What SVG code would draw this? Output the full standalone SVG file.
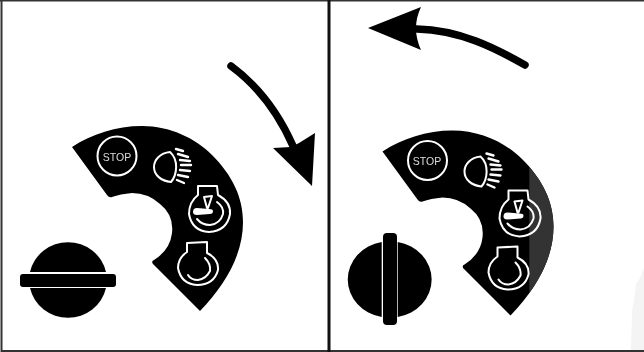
<svg xmlns="http://www.w3.org/2000/svg" width="644" height="352" viewBox="0 0 644 352">
<style>
.w{fill:none;stroke:#fff;stroke-width:2;stroke-linejoin:round;stroke-linecap:round}
.r{fill:none;stroke:#fff;stroke-width:2.400;stroke-linecap:round}
.f{fill:#fff}
.k{fill:#000}
.t{font-family:"Liberation Sans",sans-serif;font-size:10.500px;fill:#ddd;text-anchor:middle;filter:url(#gray)}
.a{fill:none;stroke:#000;stroke-width:7.500;stroke-linecap:round}
.fr{fill:none;stroke:#333;stroke-width:2}
</style>
<defs>
<filter id="gray" x="-10%" y="-20%" width="120%" height="140%"><feOffset dx="0" dy="0"/></filter>
<path id="fan" d="M72 147C92 134 116 126 142 126C170 126 195 138 212 155C232 175 243 197 243 222C243 255 225 285 200 311L153 264Q151 261 154 260Q170 250 172 233Q174 215 160 204Q148 193 132 193Q120 194 112 197Q109 198 107 195Z"/>
<g id="icons">
<circle class="w" cx="117" cy="156" r="19.500"/>
<path class="w" d="M170 152C160 153 154 160 154 167C154 175 161 181 171 182C177 175 179 160 170 152Z"/>
<path class="r" d="M176 149L183 151M178 154L188 157M180 160L190 161M181 165L191 165M180 170L190 171M178 175L188 177M177 180L184 183"/>
<path class="w" d="M198 186L217 186L218 195Q231 202 230 214Q227 231 209 232Q192 231 189 214Q189 202 198 195Z"/>
<path class="w" d="M207 208L204 197L212 196L208 208"/>
<path class="f" d="M193 212Q193 208 197 208L209 209Q213 209 213 211Q213 214 210 214L197 215Q193 215 193 212Z"/>
<path class="w" d="M217 202Q224 207 223 214Q220 224 210 225Q202 225 197 219"/>
<path class="w" d="M187 243L207 242L207 253Q219 259 218 270Q214 285 197 285Q181 284 178 268Q178 258 187 252Z"/>
<path class="w" d="M205 258Q211 264 210 271Q206 279 198 280Q191 280 188 275"/>
</g>
</defs>
<rect width="644" height="352" fill="#fff"/>
<path d="M644 268L640 278L636 284L634 300L632 312L631 350H644Z" fill="#f4f4f4"/>
<g id="frame">
<path class="fr" d="M0 .5H644M1.500 0V351H644"/>
<path d="M329 0V352" fill="none" stroke="#111" stroke-width="3"/>
</g>
<g id="connectors">
<g id="arrow-left">
<path class="a" d="M231 66C250 80 275 105 293 146"/>
<path class="k" d="M273 148L291 147L299 143L315 133L312 186Z"/>
</g>
<g id="arrow-right">
<path class="a" d="M525 65C495 48 460 30 417 29"/>
<path class="k" d="M368 28L421 7Q411 28 421 50Z"/>
</g>
</g>
<g id="panel-left">
<use href="#fan"/>
<use href="#icons"/>
<text class="t" x="117" y="160.500">STOP</text>
</g>
<g id="panel-right">
<g transform="translate(310.500 4.500)">
<use href="#fan"/>
</g>
<clipPath id="band"><rect x="529.300" y="100" width="40" height="220"/></clipPath>
<g clip-path="url(#band)"><g transform="translate(310.500 4.500)"><use href="#fan" fill="#333"/></g></g>
<g transform="translate(310.500 4.500)"><use href="#icons"/></g>
<text class="t" x="427" y="165">STOP</text>
</g>
<g id="knob-left">
<path class="k" d="M30 272A39 38.500 0 0 1 106 272ZM30 288H106A39 38.500 0 0 1 30 288Z"/>
<rect class="k" x="20" y="274" width="96" height="13" rx="3"/>
</g>
<g id="knob-right">
<path class="k" d="M381.700 242A40.500 38 0 0 0 381.700 317ZM397.700 242A40.500 38 0 0 1 397.700 317Z"/>
<rect class="k" x="383" y="233" width="14" height="92" rx="4"/>
</g>
</svg>
